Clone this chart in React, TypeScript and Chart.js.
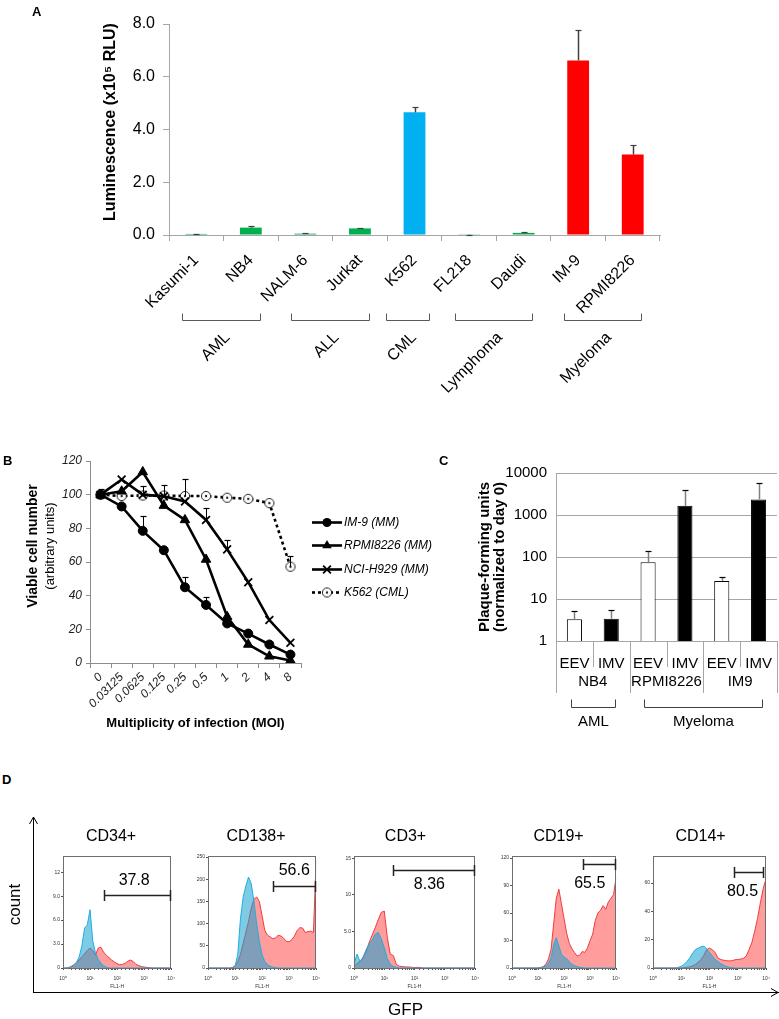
import React, { useEffect, useRef } from 'react';
import { Chart, registerables } from 'chart.js';

Chart.register(...registerables);

const FONT = "'Liberation Sans', Arial, Helvetica, sans-serif";

// ================= Panel A data =================
const A_CELL_LINES = ['Kasumi-1', 'NB4', 'NALM-6', 'Jurkat', 'K562', 'FL218', 'Daudi', 'IM-9', 'RPMI8226'];
const A_LUMINESCENCE = [0.04, 0.28, 0.05, 0.25, 4.65, 0.01, 0.08, 6.62, 3.05];
const A_SD = [0.01, 0.06, 0.03, 0.03, 0.22, 0.005, 0.03, 1.15, 0.37];
const A_Y_TICKS = [0, 2, 4, 6, 8];
const A_DISEASES = ['AML', 'ALL', 'CML', 'Lymphoma', 'Myeloma'];
const A_DISEASE_FIRST = [0, 2, 4, 5, 7];
const A_DISEASE_LAST = [1, 3, 4, 6, 8];
const A_BAR_COLORS = ['#00b050', '#00b050', '#00b050', '#00b050', '#00b0f0', '#00b050', '#00b050', '#ff0000', '#ff0000'];

// ================= Panel B data =================
const B_MOI = ['0', '0.03125', '0.0625', '0.125', '0.25', '0.5', '1', '2', '4', '8'];
const B_Y_TICKS = [0, 20, 40, 60, 80, 100, 120];
const B_SERIES = ['IM-9 (MM)', 'RPMI8226 (MM)', 'NCI-H929 (MM)', 'K562 (CML)'];
const B_IM9 = [100, 93, 78.5, 67, 45, 34.5, 23.5, 17.5, 11, 5];
const B_IM9_ERR_TOP = [null, null, 87.5, null, 51, 39.5, null, null, null, null];
const B_RPMI = [100, 102, 113.5, 93.5, 85, 61.5, 27.5, 11, 4, 1.5];
const B_NCI = [100, 109, 100, 99, 96, 85, 67.5, 48, 25.5, 12];
const B_NCI_ERR_TOP = [null, null, 105, 105.5, null, 92, 73, null, null, null];
const B_K562 = [100, 99.2, 99.5, 99.5, 99.2, 99.2, 98.2, 97.5, 95, 57.2];
const B_K562_ERR_TOP = [103.5, null, null, null, 109.5, null, null, null, null, 63.5];

// ================= Panel C data =================
const C_VIRUS_FORMS = ['EEV', 'IMV', 'EEV', 'IMV', 'EEV', 'IMV'];
const C_CELL_LINES = ['NB4', 'RPMI8226', 'IM9'];
const C_PFU = [3.3, 3.4, 75, 1650, 27, 2350];
const C_PFU_ERR_TOP = [5.3, 5.5, 140, 3900, 33, 5700];
const C_Y_TICKS = [1, 10, 100, 1000, 10000];
const C_DISEASES = ['AML', 'Myeloma'];
const C_DISEASE_FIRST = [0, 2];
const C_DISEASE_LAST = [1, 5];
const C_BAR_COLORS = ['#ffffff', '#000000', '#ffffff', '#000000', '#ffffff', '#000000'];

// ================= Panel D data =================
const D_MARKERS = ['CD34+', 'CD138+', 'CD3+', 'CD19+', 'CD14+'];
const D_GFP_CHANNELS = [1, 1.26, 1.58, 2, 2.51, 3.16, 3.98, 5.01, 6.31, 7.94, 10, 12.6, 15.8, 20, 25.1, 31.6, 39.8, 50.1, 63.1, 79.4,
  100, 126, 158, 200, 251, 316, 398, 501, 631, 794, 1000, 1260, 1580, 2000, 2510, 3160, 3980, 5010, 6310, 7940, 10000];
const CD34_CONTROL = [0, 0, 0, 0.1, 0.3, 0.7, 1.4, 2.8, 5.0, 5.4, 7.3, 3.4, 1.9, 1.1, 0.6, 0.3, 0.1, 0, 0, 0,
  0, 0, 0, 0, 0, 0, 0, 0, 0, 0, 0, 0, 0, 0, 0, 0, 0, 0, 0, 0, 0];
const CD34_GFP = [0, 0, 0.05, 0.2, 0.4, 0.7, 1.0, 1.4, 1.8, 2.2, 2.5, 2.2, 1.6, 2.5, 2.6, 2.0, 1.6, 1.3, 1.0, 0.75,
  0.55, 0.4, 0.45, 0.6, 0.85, 1.0, 0.8, 0.45, 0.3, 0.18, 0.12, 0.08, 0.04, 0, 0, 0, 0, 0, 0, 0, 0];
const CD138_CONTROL = [0, 0, 0, 0, 0, 0, 0, 0, 0, 0, 4, 30, 110, 160, 185, 205, 190, 150, 100, 60,
  30, 15, 8, 4, 2, 1, 0, 0, 0, 0, 0, 0, 0, 0, 0, 0, 0, 0, 0, 0, 0];
const CD138_GFP = [0, 0, 0, 0, 0, 0, 0, 0, 0, 1, 5, 14, 30, 55, 80, 105, 135, 155, 160, 150,
  118, 85, 74, 70, 66, 68, 74, 72, 67, 60, 59, 64, 72, 85, 91, 90, 80, 82, 83, 80, 243];
const CD3_CONTROL = [0.5, 1.9, 0.9, 1.5, 2.5, 3.3, 3.8, 4.6, 4.9, 4.0, 2.8, 1.3, 0.5, 0.2, 0.1, 0, 0, 0, 0, 0,
  0, 0, 0, 0, 0, 0, 0, 0, 0, 0, 0, 0, 0, 0, 0, 0, 0, 0, 0, 0, 0];
const CD3_GFP = [0.2, 0.6, 0.9, 1.4, 2.2, 3.5, 4.5, 5.5, 6.6, 7.6, 7.8, 4.2, 1.9, 1.7, 0.5, 0.25, 0.2, 0.15, 0.15, 0.1,
  0.05, 0.1, 0.05, 0, 0, 0, 0, 0, 0, 0, 0, 0, 0, 0, 0, 0, 0, 0, 0, 0, 0];
const CD19_CONTROL = [0, 0, 0, 0, 0, 0, 0, 0, 0, 0, 0, 0.3, 1, 2.5, 5, 11, 25, 33, 24, 15,
  12, 10, 7, 4, 2.5, 1.5, 0.8, 0.3, 0, 0, 0, 0, 0, 0, 0, 0, 0, 0, 0, 0, 0];
const CD19_GFP = [0, 0, 0, 0, 0, 0, 0, 0, 0, 0, 0, 0.5, 1.5, 4, 10, 20, 48, 76, 86, 70,
  54, 38, 27, 21, 17, 13, 14, 18, 17, 22, 30, 37, 52, 60, 63, 68, 64, 72, 76, 80, 99];
const CD14_CONTROL = [0, 0, 0, 0, 0, 0, 0, 0, 0, 0.5, 1.2, 2.5, 4.5, 7, 10.5, 13, 14, 15, 15.5, 13.5,
  11, 8.5, 6, 4.5, 3, 2, 1, 0.5, 0.2, 0, 0, 0, 0, 0, 0, 0, 0, 0, 0, 0, 0];
const CD14_GFP = [0, 0, 0, 0, 0, 0, 0, 0, 0, 0, 0, 0.2, 0.5, 0.8, 1.5, 2.5, 4, 6, 9, 13,
  14, 13, 11, 7, 6, 5.5, 5.2, 5, 5.2, 5.8, 6, 6.3, 6.8, 8.5, 13, 18, 26, 35, 46, 56, 63];
const D_CONTROL = [CD34_CONTROL, CD138_CONTROL, CD3_CONTROL, CD19_CONTROL, CD14_CONTROL];
const D_GFP = [CD34_GFP, CD138_GFP, CD3_GFP, CD19_GFP, CD14_GFP];
const D_Y_MAX = [14, 252, 15.3, 122, 79];
const D_Y_TICKS = [[0, 3, 6, 9, 12], [0, 50, 100, 150, 200, 250], [0, 5, 10, 15], [0, 30, 60, 90, 120], [0, 20, 40, 60]];
const D_GATE_PCT = ['37.8', '56.6', '8.36', '65.5', '80.5'];
const D_GATE_FROM = [33, 250, 20, 530, 750];
const D_GATE_TO = [10000, 10000, 10000, 10000, 8700];
const D_GATE_LEVEL = [9.2, 184, 13.4, 114, 68];
const D_LABEL_X = [430, 1550, 310, 970, 1480];
const D_LABEL_Y = [10.9, 220, 11.4, 92, 54];

// layout (page pixels)
const HIST_BOXES = [
  { left: 45, width: 136, padR: 4 },
  { left: 190, width: 136, padR: 4 },
  { left: 336, width: 158, padR: 19 },
  { left: 494, width: 132, padR: 3 },
  { left: 635, width: 144, padR: 13 },
];

const SUP = ['⁰', '¹', '²', '³', '⁴'];

// ================= helpers =================
const errorBarPlugin = {
  id: 'errorBars',
  afterDatasetsDraw(chart: any) {
    const ctx = chart.ctx;
    chart.data.datasets.forEach((ds: any, i: number) => {
      if (!ds.errorTop) return;
      const meta = chart.getDatasetMeta(i);
      const ys = chart.scales[meta.yAxisID];
      meta.data.forEach((el: any, j: number) => {
        const top = ds.errorTop[j];
        if (top == null) return;
        const x = Math.round(el.x) + 0.5;
        const y1 = Math.round(ys.getPixelForValue(top)) + 0.5;
        ctx.save();
        ctx.strokeStyle = ds.errorColor || '#000';
        ctx.lineWidth = ds.errorWidth || 1;
        ctx.beginPath();
        ctx.moveTo(x, el.y);
        ctx.lineTo(x, y1);
        ctx.stroke();
        ctx.strokeStyle = ds.capColor || '#000';
        ctx.lineWidth = 1.2;
        ctx.beginPath();
        ctx.moveTo(x - (ds.capHalf || 3), y1);
        ctx.lineTo(x + (ds.capHalf || 3), y1);
        ctx.stroke();
        ctx.restore();
      });
    });
  },
};

function makeOpenDot(): HTMLCanvasElement {
  const c = document.createElement('canvas');
  c.width = 12;
  c.height = 12;
  const g = c.getContext('2d') as CanvasRenderingContext2D;
  g.fillStyle = '#ffffff';
  g.beginPath();
  g.arc(6, 6, 4.6, 0, Math.PI * 2);
  g.fill();
  g.strokeStyle = '#222';
  g.lineWidth = 1;
  g.stroke();
  g.fillStyle = '#222';
  g.beginPath();
  g.arc(6, 6, 1.2, 0, Math.PI * 2);
  g.fill();
  return c;
}

function drawMarker(ctx: CanvasRenderingContext2D, style: any, x: number, y: number, r: number, bw: number) {
  if (typeof style !== 'string') {
    ctx.drawImage(style, x - style.width / 2, y - style.height / 2);
    return;
  }
  ctx.fillStyle = '#000';
  ctx.strokeStyle = '#000';
  ctx.lineWidth = bw;
  ctx.beginPath();
  if (style === 'circle') {
    ctx.arc(x, y, r, 0, Math.PI * 2);
    ctx.fill();
  } else if (style === 'triangle') {
    for (let i = 0; i < 3; i++) {
      const a = (i * 2 * Math.PI) / 3;
      const px = x + Math.sin(a) * r;
      const py = y - Math.cos(a) * r;
      if (i === 0) ctx.moveTo(px, py);
      else ctx.lineTo(px, py);
    }
    ctx.closePath();
    ctx.fill();
  } else if (style === 'crossRot') {
    const d = r * Math.SQRT1_2;
    ctx.moveTo(x - d, y - d);
    ctx.lineTo(x + d, y + d);
    ctx.moveTo(x + d, y - d);
    ctx.lineTo(x - d, y + d);
    ctx.stroke();
  }
}

function ChartBox({ left, top, width, height, build }: any) {
  const ref = useRef<HTMLCanvasElement>(null);
  useEffect(() => {
    const chart = new Chart(ref.current as HTMLCanvasElement, build());
    return () => chart.destroy();
  }, []);
  return (
    <canvas
      ref={ref}
      width={width}
      height={height}
      style={{ position: 'absolute', left, top, width, height }}
    />
  );
}

// ================= Panel A =================
function buildA(): any {
  const groups = {
    id: 'aGroups',
    afterDraw(chart: any) {
      const { ctx, chartArea } = chart;
      const xs = chart.scales.x;
      const w = xs.getPixelForValue(1) - xs.getPixelForValue(0);
      const yLine = Math.round(chartArea.bottom + 85) + 0.5;
      ctx.save();
      // y-axis title
      ctx.fillStyle = '#000';
      ctx.font = `bold 16px ${FONT}`;
      ctx.textAlign = 'center';
      ctx.textBaseline = 'middle';
      ctx.save();
      ctx.translate(111, chartArea.top + 98);
      ctx.rotate(-Math.PI / 2);
      ctx.fillText('Luminescence (x10⁵ RLU)', 0, 0);
      ctx.restore();
      // disease brackets
      ctx.strokeStyle = '#595959';
      ctx.lineWidth = 1;
      ctx.font = `16px ${FONT}`;
      ctx.textAlign = 'right';
      ctx.textBaseline = 'middle';
      A_DISEASES.forEach((label, g) => {
        const first = A_DISEASE_FIRST[g];
        const last = A_DISEASE_LAST[g];
        let l = xs.getPixelForValue(first) - 0.26 * w;
        let r = xs.getPixelForValue(last) + 0.16 * w;
        if (first === last) {
          l -= 0.27 * w;
          r += 0.1 * w;
        }
        l = Math.round(l) + 0.5;
        r = Math.round(r) + 0.5;
        ctx.beginPath();
        ctx.moveTo(l, yLine - 7);
        ctx.lineTo(l, yLine);
        ctx.lineTo(r, yLine);
        ctx.lineTo(r, yLine - 7);
        ctx.stroke();
        ctx.save();
        ctx.translate((l + r) / 2 + 6, chartArea.bottom + 100);
        ctx.rotate(-Math.PI / 4);
        ctx.fillText(label, 0, 0);
        ctx.restore();
      });
      ctx.restore();
    },
  };
  return {
    type: 'bar',
    data: {
      labels: A_CELL_LINES,
      datasets: [
        {
          data: A_LUMINESCENCE,
          backgroundColor: A_BAR_COLORS,
          borderWidth: 0,
          categoryPercentage: 0.5,
          barPercentage: 0.8,
          errorTop: A_LUMINESCENCE.map((v, i) => v + A_SD[i]),
          errorColor: '#404040',
          capColor: '#404040',
          errorWidth: 1.5,
          capHalf: 3,
        },
      ],
    },
    options: {
      responsive: false,
      animation: false,
      layout: { padding: { left: 97, top: 24, right: 40, bottom: 0 } },
      plugins: { legend: { display: false }, tooltip: { enabled: false } },
      scales: {
        x: {
          grid: { display: true, drawOnChartArea: false, offset: true, color: '#a6a6a6', tickLength: 6 },
          border: { color: '#a6a6a6' },
          ticks: { font: { family: FONT, size: 16 }, color: '#000', minRotation: 45, maxRotation: 45, autoSkip: false, padding: 10 },
          afterFit: (s: any) => { s.height = 165; },
        },
        y: {
          min: 0,
          max: 8,
          afterBuildTicks: (s: any) => { s.ticks = A_Y_TICKS.map((value) => ({ value })); },
          ticks: { font: { family: FONT, size: 16 }, color: '#000', padding: 8, callback: (v: any) => Number(v).toFixed(1) },
          grid: { drawOnChartArea: false, color: '#a6a6a6', tickLength: 6 },
          border: { color: '#a6a6a6' },
          afterFit: (s: any) => { s.width = 72; },
        },
      },
    },
    plugins: [errorBarPlugin, groups],
  };
}

// ================= Panel B =================
function buildB(): any {
  const openDot = makeOpenDot();
  const legendAndTitle = {
    id: 'bLegend',
    afterDraw(chart: any) {
      const { ctx, chartArea } = chart;
      const x0 = chartArea.right + 11;
      const y0 = chartArea.top + 61;
      const gap = 23.3;
      chart.data.datasets.forEach((ds: any, i: number) => {
        const y = Math.round(y0 + i * gap) + 0.5;
        ctx.save();
        ctx.strokeStyle = '#000';
        ctx.lineWidth = ds.borderWidth;
        ctx.setLineDash(ds.borderDash || []);
        ctx.beginPath();
        ctx.moveTo(x0, y);
        ctx.lineTo(x0 + 30, y);
        ctx.stroke();
        ctx.setLineDash([]);
        drawMarker(ctx, ds.pointStyle, x0 + 15, y, ds.pointRadius, ds.pointBorderWidth || 1);
        ctx.fillStyle = '#000';
        ctx.font = `italic 12px ${FONT}`;
        ctx.textAlign = 'left';
        ctx.textBaseline = 'middle';
        ctx.fillText(ds.label, x0 + 32, y);
        ctx.restore();
      });
      // two-line y title (bold + normal)
      const cy = chartArea.top + 85;
      ctx.save();
      ctx.fillStyle = '#000';
      ctx.textAlign = 'center';
      ctx.textBaseline = 'middle';
      ctx.translate(33, cy);
      ctx.rotate(-Math.PI / 2);
      ctx.font = `bold 14px ${FONT}`;
      ctx.fillText('Viable cell number', 0, 0);
      ctx.font = `13px ${FONT}`;
      ctx.fillText('(arbitrary units)', 0, 17);
      ctx.restore();
    },
  };
  const common = { borderColor: '#000', borderWidth: 2.6, pointBackgroundColor: '#000', pointBorderColor: '#000', tension: 0, errorColor: '#000', capColor: '#000', errorWidth: 1, capHalf: 3 };
  return {
    type: 'line',
    data: {
      labels: B_MOI,
      datasets: [
        { ...common, label: B_SERIES[0], data: B_IM9, pointStyle: 'circle', pointRadius: 4.5, pointBorderWidth: 1, errorTop: B_IM9_ERR_TOP },
        { ...common, label: B_SERIES[1], data: B_RPMI, pointStyle: 'triangle', pointRadius: 5.5, pointBorderWidth: 1 },
        { ...common, label: B_SERIES[2], data: B_NCI, pointStyle: 'crossRot', pointRadius: 5.5, pointBorderWidth: 1.8, errorTop: B_NCI_ERR_TOP },
        { ...common, label: B_SERIES[3], data: B_K562, borderDash: [3, 3], pointStyle: openDot, pointRadius: 5, pointBorderWidth: 1, errorTop: B_K562_ERR_TOP },
      ],
    },
    options: {
      responsive: false,
      animation: false,
      layout: { padding: { left: 0, top: 89, right: 139, bottom: 0 } },
      plugins: { legend: { display: false }, tooltip: { enabled: false } },
      scales: {
        x: {
          offset: true,
          grid: { display: true, drawOnChartArea: false, offset: true, color: '#8c8c8c', tickLength: 5 },
          border: { color: '#8c8c8c' },
          ticks: { font: { family: FONT, size: 12, style: 'italic' }, color: '#222', minRotation: 45, maxRotation: 45, autoSkip: false, padding: 2 },
          title: {
            display: true,
            text: 'Multiplicity of infection (MOI)',
            font: { family: FONT, size: 13, weight: 'bold' },
            color: '#000',
            padding: { top: 0, bottom: 1 },
          },
          afterFit: (s: any) => { s.height = 69; },
        },
        y: {
          min: 0,
          max: 120,
          afterBuildTicks: (s: any) => { s.ticks = B_Y_TICKS.map((value) => ({ value })); },
          ticks: { font: { family: FONT, size: 12, style: 'italic' }, color: '#222', padding: 4 },
          grid: { drawOnChartArea: false, color: '#8c8c8c', tickLength: 4 },
          border: { color: '#8c8c8c' },
          afterFit: (s: any) => { s.width = 90; },
        },
      },
    },
    plugins: [errorBarPlugin, legendAndTitle],
  };
}

// ================= Panel C =================
function buildC(): any {
  const table = {
    id: 'cTable',
    afterDraw(chart: any) {
      const { ctx, chartArea } = chart;
      const xs = chart.scales.x;
      const w = xs.getPixelForValue(1) - xs.getPixelForValue(0);
      const base = chartArea.bottom;
      ctx.save();
      ctx.strokeStyle = '#a6a6a6';
      ctx.lineWidth = 1;
      for (let i = 0; i <= C_VIRUS_FORMS.length; i++) {
        const x = Math.round(xs.getPixelForValue(i) - w / 2) + 0.5;
        const long = i % 2 === 0;
        ctx.beginPath();
        ctx.moveTo(x, base);
        ctx.lineTo(x, base + (long ? 52 : 26));
        ctx.stroke();
      }
      ctx.fillStyle = '#000';
      ctx.font = `15px ${FONT}`;
      ctx.textAlign = 'center';
      ctx.textBaseline = 'middle';
      C_CELL_LINES.forEach((name, k) => {
        const cx = (xs.getPixelForValue(2 * k) + xs.getPixelForValue(2 * k + 1)) / 2;
        ctx.fillText(name, cx, base + 41);
      });
      ctx.strokeStyle = '#404040';
      const yB = Math.round(base + 66) + 0.5;
      C_DISEASES.forEach((label, g) => {
        const l = Math.round(xs.getPixelForValue(C_DISEASE_FIRST[g]) - 0.1 * w) + 0.5;
        const r = Math.round(xs.getPixelForValue(C_DISEASE_LAST[g]) + 0.1 * w) + 0.5;
        ctx.beginPath();
        ctx.moveTo(l, yB - 8);
        ctx.lineTo(l, yB);
        ctx.lineTo(r, yB);
        ctx.lineTo(r, yB - 8);
        ctx.stroke();
        ctx.fillText(label, (l + r) / 2, base + 81);
      });
      ctx.restore();
    },
  };
  return {
    type: 'bar',
    data: {
      labels: C_VIRUS_FORMS,
      datasets: [
        {
          data: C_PFU,
          backgroundColor: C_BAR_COLORS,
          borderColor: '#000',
          borderWidth: 1,
          categoryPercentage: 0.5,
          barPercentage: 0.82,
          errorTop: C_PFU_ERR_TOP,
          errorColor: '#808080',
          capColor: '#000',
          errorWidth: 1.5,
          capHalf: 3,
        },
      ],
    },
    options: {
      responsive: false,
      animation: false,
      layout: { padding: { left: 0, top: 33, right: 2, bottom: 0 } },
      plugins: { legend: { display: false }, tooltip: { enabled: false } },
      scales: {
        x: {
          grid: { display: false },
          border: { display: true, color: '#a6a6a6' },
          ticks: { font: { family: FONT, size: 15 }, color: '#000', padding: 6, maxRotation: 0, autoSkip: false },
          afterFit: (s: any) => { s.height = 99; },
        },
        y: {
          type: 'logarithmic',
          min: 1,
          max: 10000,
          afterBuildTicks: (s: any) => { s.ticks = C_Y_TICKS.map((value) => ({ value })); },
          ticks: { font: { family: FONT, size: 15 }, color: '#000', padding: 9, callback: (v: any) => String(v) },
          grid: { color: '#a6a6a6', drawTicks: false },
          border: { display: true, color: '#a6a6a6' },
          title: {
            display: true,
            text: ['Plaque-forming units', '(normalized to day 0)'],
            font: { family: FONT, size: 15, weight: 'bold', lineHeight: 1 },
            color: '#000',
            padding: { top: 37, bottom: 0 },
          },
          afterFit: (s: any) => { s.width = 116; },
        },
      },
    },
    plugins: [errorBarPlugin, table],
  };
}

// ================= Panel D =================
function buildDAxes(): any {
  const arrows = {
    id: 'arrows',
    afterDraw(chart: any) {
      const { ctx, chartArea } = chart;
      const l = Math.round(chartArea.left) + 0.5;
      const t = chartArea.top;
      const r = chartArea.right;
      const b = Math.round(chartArea.bottom) + 0.5;
      ctx.save();
      ctx.strokeStyle = '#000';
      ctx.lineWidth = 1;
      ctx.beginPath();
      ctx.moveTo(l - 4, t + 7);
      ctx.lineTo(l, t);
      ctx.lineTo(l + 4, t + 7);
      ctx.moveTo(r - 7, b - 4);
      ctx.lineTo(r, b);
      ctx.lineTo(r - 7, b + 4);
      ctx.stroke();
      ctx.restore();
    },
  };
  return {
    type: 'scatter',
    data: { datasets: [] },
    options: {
      responsive: false,
      animation: false,
      layout: { padding: { left: 0, top: 17, right: 1, bottom: 0 } },
      plugins: { legend: { display: false }, tooltip: { enabled: false } },
      scales: {
        x: {
          type: 'linear', min: 0, max: 1,
          ticks: { display: false },
          grid: { display: false },
          border: { display: true, color: '#000', width: 1 },
          title: { display: true, text: 'GFP', font: { family: FONT, size: 17, lineHeight: 1 }, color: '#000', padding: { top: 0, bottom: 0 } },
          afterFit: (s: any) => { s.height = 27; },
        },
        y: {
          type: 'linear', min: 0, max: 1,
          ticks: { display: false },
          grid: { display: false },
          border: { display: true, color: '#000', width: 1 },
          title: { display: true, text: 'count', font: { family: FONT, size: 17 }, color: '#000', padding: { top: 5, bottom: 0 } },
          afterFit: (s: any) => { s.width = 33; },
        },
      },
    },
    plugins: [arrows],
  };
}

function buildHist(k: number): any {
  const box = HIST_BOXES[k];
  const control = D_CONTROL[k];
  const gfp = D_GFP[k];
  const bg = {
    id: 'bg',
    beforeDatasetsDraw(chart: any) {
      const { ctx, chartArea } = chart;
      ctx.save();
      ctx.fillStyle = '#ffffff';
      ctx.fillRect(chartArea.left, chartArea.top, chartArea.right - chartArea.left, chartArea.bottom - chartArea.top);
      ctx.restore();
    },
  };
  const gate = {
    id: 'gate',
    afterDraw(chart: any) {
      const { ctx, chartArea } = chart;
      const xs = chart.scales.x;
      const ys = chart.scales.y;
      ctx.save();
      ctx.strokeStyle = '#6e6e6e';
      ctx.lineWidth = 1;
      ctx.strokeRect(Math.round(chartArea.left) + 0.5, Math.round(chartArea.top) + 0.5,
        Math.round(chartArea.right - chartArea.left) - 1, Math.round(chartArea.bottom - chartArea.top));
      const x1 = Math.round(xs.getPixelForValue(D_GATE_FROM[k])) + 0.5;
      const x2 = Math.round(xs.getPixelForValue(D_GATE_TO[k])) - 0.5;
      const y = Math.round(ys.getPixelForValue(D_GATE_LEVEL[k])) + 0.5;
      ctx.strokeStyle = '#222';
      ctx.lineWidth = 1.5;
      ctx.beginPath();
      ctx.moveTo(x1, y);
      ctx.lineTo(x2, y);
      ctx.moveTo(x1, y - 5.5);
      ctx.lineTo(x1, y + 5.5);
      ctx.moveTo(x2, y - 5.5);
      ctx.lineTo(x2, y + 5.5);
      ctx.stroke();
      ctx.fillStyle = '#000';
      ctx.font = `16px ${FONT}`;
      ctx.textAlign = 'center';
      ctx.textBaseline = 'middle';
      ctx.fillText(D_GATE_PCT[k], xs.getPixelForValue(D_LABEL_X[k]), ys.getPixelForValue(D_LABEL_Y[k]));
      ctx.restore();
    },
  };
  return {
    type: 'line',
    data: {
      datasets: [
        {
          label: 'control',
          data: D_GFP_CHANNELS.map((x, i) => ({ x, y: control[i] })),
          borderColor: '#1eaee0',
          borderWidth: 1,
          backgroundColor: 'rgba(20,160,210,0.55)',
          fill: 'origin',
          pointRadius: 0,
          tension: 0,
        },
        {
          label: 'GFP',
          data: D_GFP_CHANNELS.map((x, i) => ({ x, y: gfp[i] })),
          borderColor: '#f23c3c',
          borderWidth: 1,
          backgroundColor: 'rgba(255,90,90,0.6)',
          fill: 'origin',
          pointRadius: 0,
          tension: 0,
        },
      ],
    },
    options: {
      responsive: false,
      animation: false,
      layout: { padding: { left: 0, right: box.padR, top: 0, bottom: 0 } },
      plugins: {
        legend: { display: false },
        tooltip: { enabled: false },
        title: {
          display: true,
          text: D_MARKERS[k],
          font: { family: FONT, size: 16, weight: 'normal' },
          color: '#000',
          padding: { top: 2, bottom: 10 },
        },
      },
      scales: {
        x: {
          type: 'logarithmic',
          min: 1,
          max: 10000,
          ticks: {
            autoSkip: false,
            maxRotation: 0,
            font: { family: FONT, size: 5 },
            color: '#333',
            padding: 6,
            callback: (v: any) => {
              const e = Math.log10(Number(v));
              return Math.abs(e - Math.round(e)) < 1e-6 ? '10' + SUP[Math.round(e)] : '';
            },
          },
          grid: { drawOnChartArea: false, tickLength: 2, color: '#555' },
          border: { display: false },
          title: { display: true, text: 'FL1-H', font: { family: FONT, size: 5 }, color: '#333', padding: { top: 1, bottom: 0 } },
          afterFit: (s: any) => { s.height = 22; },
        },
        y: {
          min: 0,
          max: D_Y_MAX[k],
          afterBuildTicks: (s: any) => { s.ticks = D_Y_TICKS[k].map((value) => ({ value })); },
          ticks: {
            font: { family: FONT, size: 5 },
            color: '#333',
            padding: 1,
            callback: (v: any) => (v === 0 ? '0' : v < 10 ? Number(v).toFixed(1) : String(v)),
          },
          grid: { drawOnChartArea: false, tickLength: 2, color: '#555' },
          border: { display: false },
          afterFit: (s: any) => { s.width = 18; },
        },
      },
    },
    plugins: [bg, gate],
  };
}

const letterStyle = (left: number, top: number): any => ({
  position: 'absolute',
  left,
  top,
  fontFamily: FONT,
  fontWeight: 'bold',
  fontSize: 13,
  lineHeight: '15px',
  color: '#000',
});

export default function App() {
  return (
    <div style={{ position: 'absolute', left: 0, top: 0, width: 779, height: 1019, overflow: 'hidden', background: '#fff' }}>
      <ChartBox left={0} top={0} width={700} height={400} build={buildA} />
      <ChartBox left={0} top={372} width={440} height={360} build={buildB} />
      <ChartBox left={440} top={440} width={339} height={300} build={buildC} />
      <ChartBox left={0} top={800} width={779} height={219} build={buildDAxes} />
      {HIST_BOXES.map((b, k) => (
        <ChartBox key={k} left={b.left} top={825} width={b.width} height={165} build={() => buildHist(k)} />
      ))}
      <div style={letterStyle(32, 4)}>A</div>
      <div style={letterStyle(3, 453)}>B</div>
      <div style={letterStyle(439, 453)}>C</div>
      <div style={letterStyle(2, 772)}>D</div>
    </div>
  );
}
